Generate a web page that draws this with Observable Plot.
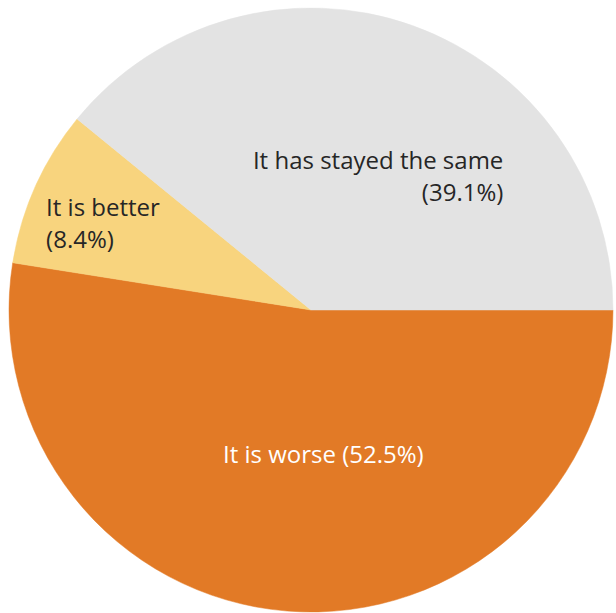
<!DOCTYPE html>
<html>
<head>
<meta charset="utf-8">
<script src="https://cdn.jsdelivr.net/npm/d3@7"></script>
<script src="https://cdn.jsdelivr.net/npm/@observablehq/plot@0.6"></script>
<style>
  html, body { margin: 0; padding: 0; background: #ffffff; }
  #chart svg { display: block; }
</style>
</head>
<body>
<div id="chart"></div>
<script>
// ---- data ----
const categories = ["It is worse", "It is better", "It has stayed the same"];
const shares = [52.5, 8.4, 39.1];
const shareLabels = ["(52.5%)", "(8.4%)", "(39.1%)"];

// ---- styles ----
const sliceColors = ["#E27A26", "#F8D47E", "#E3E3E3"];
const textColors = ["#ffffff", "#262626", "#262626"];
const textAnchors = ["middle", "start", "end"];
const labelSep = [" ", "\n", "\n"];
const labelRadius = 0.6;
const labelDx = [26, -100, 131];
const labelDy = [-39, -15, 35];

const data = categories.map((c, i) => ({category: c, value: shares[i], pct: shareLabels[i]}));

const pie = d3.pie().sort(null).value(d => d.value)
  .startAngle(Math.PI / 2).endAngle(Math.PI / 2 + 2 * Math.PI);
const arcs = pie(data);

const labelData = arcs.map((a, i) => {
  const mid = (a.startAngle + a.endAngle) / 2;
  return {
    text: a.data.category + labelSep[i] + a.data.pct,
    x: labelRadius * Math.sin(mid),
    y: labelRadius * Math.cos(mid),
    i
  };
});

function pieMark(index, scales, values, dimensions, context) {
  const cx = scales.x(0), cy = scales.y(0), r = scales.x(1) - scales.x(0);
  const g = d3.create("svg:g").attr("transform", `translate(${cx},${cy})`);
  const arc = d3.arc().innerRadius(0).outerRadius(r);
  g.selectAll("path").data(arcs).join("path")
    .attr("d", arc)
    .attr("fill", (d, i) => sliceColors[i])
    .attr("stroke", (d, i) => sliceColors[i])
    .attr("stroke-width", 0.5);
  return g.node();
}

const marks = [pieMark];
labelData.forEach(d => {
  marks.push(Plot.text([d], {
    x: "x", y: "y", text: "text",
    fill: textColors[d.i],
    textAnchor: textAnchors[d.i],
    lineAnchor: "middle",
    lineHeight: 1.35,
    dx: labelDx[d.i], dy: labelDy[d.i],
    fontSize: 24
  }));
});

const chart = Plot.plot({
  width: 616,
  height: 613,
  marginLeft: 9,
  marginRight: 3,
  marginTop: 8,
  marginBottom: 1,
  x: {domain: [-1, 1], axis: null},
  y: {domain: [-1, 1], axis: null},
  style: {background: "#ffffff", fontFamily: "'Open Sans', sans-serif"},
  marks
});
document.getElementById("chart").appendChild(chart);
</script>
</body>
</html>
